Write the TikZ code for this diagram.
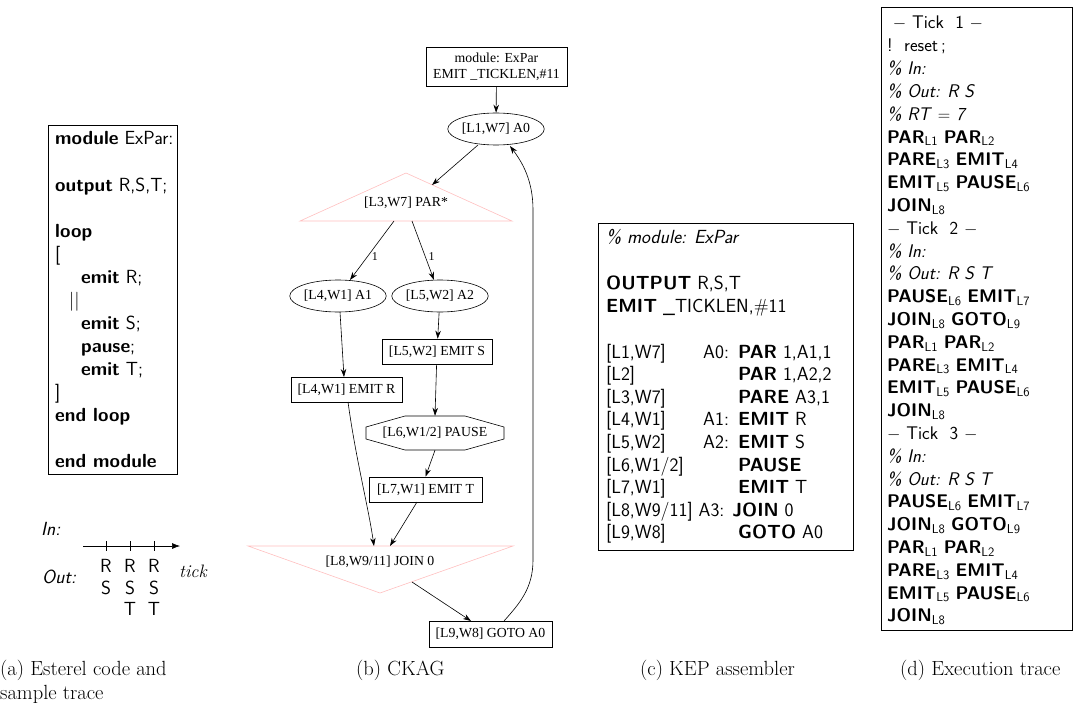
\documentclass[tikz,border=0pt]{standalone}
\usepackage{fontspec}
\newfontfamily\tms{Liberation Serif}
\usetikzlibrary{arrows.meta,shapes.geometric}
\newcommand{\ssb}[1]{\textsubscript{#1}}
\begin{document}
\begin{tikzpicture}[x=1pt,y=-1pt,
  code/.style={font=\sffamily\fontsize{19}{21}\selectfont, anchor=base west, inner sep=0},
  tcode/.style={font=\sffamily\fontsize{18.3}{21}\selectfont, anchor=base west, inner sep=0},
  gbox/.style={font=\tms\fontsize{13.8}{16}\selectfont, draw, line width=0.6pt, inner sep=0, align=center},
  gtext/.style={font=\tms\fontsize{13.8}{16}\selectfont, inner sep=0},
  gsmall/.style={font=\tms\fontsize{12}{14}\selectfont, inner sep=0},
  gell/.style={gbox, ellipse, minimum width=90pt, minimum height=32pt},
  garrow/.style={-{Stealth[length=8pt,width=5.5pt]}, line width=0.6pt},
  pinkline/.style={draw=pink, line width=0.6pt},
  panel/.style={draw, line width=0.8pt},
  captxt/.style={font=\fontsize{20.5}{24}\selectfont, anchor=base west, inner sep=0}
]
\useasboundingbox (0,0) rectangle (1081,706);

% ---------------- (a) Esterel code ----------------
\draw[panel] (48,125) rectangle (177,474);
\foreach \t/\dx [count=\i] in {{\textbf{module} ExPar:}/0, {}/0, {\textbf{output} R,S,T;}/0, {}/0,
  {\textbf{loop}}/0, {[}/0, {\textbf{emit} R;}/26, {||}/14, {\textbf{emit} S;}/26, {\textbf{pause};}/26,
  {\textbf{emit} T;}/26, {]}/0, {\textbf{end loop}}/0, {}/0, {\textbf{end module}}/0}
  \node[code] (ca\i) at ({55+\dx},{145+23*(\i-1)}) {\t};

% sample trace
\node[code] (inlbl) at (41,535) {\textit{In:}};
\node[code] (outlbl) at (42,583) {\textit{Out:}};
\coordinate (axs) at (83,546);
\coordinate (axe) at (180,546);
\draw[-{Latex[length=8pt,width=6pt]}, line width=0.6pt] (axs) -- (axe);
\foreach \x in {106,130,154} \draw[line width=0.6pt] (\x,541) -- (\x,551);
\foreach \x [count=\i] in {106,130,154} {
  \node[code, anchor=base] (r\i) at (\x,572) {R};
  \node[code, anchor=base] (s\i) at (\x,594) {S};
}
\node[code, anchor=base] (t2) at (130,615) {T};
\node[code, anchor=base] (t3) at (154,615) {T};
\node[captxt, font=\fontsize{18}{20}\selectfont] (ticklbl) at (179,577) {\textit{tick}};

% ---------------- (b) CKAG ----------------
\node[gbox, minimum width=141pt, minimum height=39pt] (top) at (496.5,66.5) {module: ExPar\\EMIT \_TICKLEN,\#11};
\node[gell] (a0) at (496,129) {[L1,W7] A0};
% PAR triangle
\draw[pinkline] (406,173) -- (512,221) -- (300,221) -- cycle;
\node[gtext] (par) at (406,203) {[L3,W7] PAR*};
\coordinate (a0out) at (478,145);
\coordinate (parin) at (432,185);
\coordinate (parl) at (394,221);
\coordinate (parr) at (412,221);
\node[gell] (a1) at (338,296) {[L4,W1] A1};
\node[gell] (a2) at (440,296) {[L5,W2] A2};
\coordinate (a1top) at (350,280);
\coordinate (a2top) at (434,280);
\node[gbox, minimum width=110pt, minimum height=25pt] (ems) at (437,351.5) {[L5,W2] EMIT S};
\node[gbox, minimum width=111pt, minimum height=25pt] (emr) at (346.5,389.5) {[L4,W1] EMIT R};
\node[gtext, minimum width=138pt, minimum height=34pt] (pause) at (435,433) {[L6,W1/2] PAUSE};
\draw[line width=0.6pt, shift={(pause.center)}] (-30,-17) -- (30,-17) -- (69,-6) -- (69,6) -- (30,17) -- (-30,17) -- (-69,6) -- (-69,-6) -- cycle;
\node[gbox, minimum width=113pt, minimum height=25pt] (emt) at (425.5,489.5) {[L7,W1] EMIT T};
% JOIN triangle
\draw[pinkline] (248,546) -- (513,546) -- (380,593) -- cycle;
\node[gtext] (join) at (380,562) {[L8,W9/11] JOIN 0};
\coordinate (a1bot) at (340,312);
\coordinate (emrtop) at (344,377);
\coordinate (emrbot) at (348,402);
\coordinate (emtbot) at (417,502);
\coordinate (joinl) at (374,546);
\coordinate (joinr) at (390,546);
\coordinate (joinout) at (412,582);
\node[gbox, minimum width=123pt, minimum height=26pt] (goto) at (490.5,634) {[L9,W8] GOTO A0};
\coordinate (gotoin) at (471,621);
\coordinate (gotor) at (504,621);
\coordinate (a0in) at (510,146);

\draw[garrow] (top) -- (a0);
\draw[garrow] (a0out) -- (parin);
\draw[garrow] (parl) -- node[gsmall, pos=0.6, right=4pt] (l1) {1} (a1top);
\draw[garrow] (parr) -- node[gsmall, pos=0.6, right=3pt] (l2) {1} (a2top);
\draw[garrow] (a1bot) -- (emrtop);
\draw[garrow] (a2) -- (ems);
\draw[garrow] (ems) -- (pause.north);
\draw[garrow] (pause.south) -- (emt.north);
\draw[garrow] (emrbot) .. controls (356,460) and (368,505) .. (joinl);
\draw[garrow] (emtbot) -- (joinr);
\draw[garrow] (joinout) -- (gotoin);
\draw[garrow] (gotor) .. controls (520,603) and (533,588) .. (533,560) -- (533,210) .. controls (533,180) and (522,162) .. (a0in);

% ---------------- (c) KEP assembler ----------------
\draw[panel] (598,223) rectangle (853,550);
\node[code] (c1) at (606,243) {\textit{\% module: ExPar}};
\node[code] (c2) at (606,289) {\textbf{OUTPUT} R,S,T};
\node[code] (c3) at (606,312) {\textbf{EMIT} \_TICKLEN,\#11};
\foreach \a/\b/\c [count=\i] in {{[L1,W7]}/{A0:}/{\textbf{PAR} 1,A1,1},
  {[L2]}/{}/{\textbf{PAR} 1,A2,2},
  {[L3,W7]}/{}/{\textbf{PARE} A3,1},
  {[L4,W1]}/{A1:}/{\textbf{EMIT} R},
  {[L5,W2]}/{A2:}/{\textbf{EMIT} S},
  {[L6,W1/2]}/{}/{\textbf{PAUSE}},
  {[L7,W1]}/{}/{\textbf{EMIT} T}} {
  \node[code] (ka\i) at (606,{358+22.6*(\i-1)}) {\a};
  \node[code] (kb\i) at (703,{358+22.6*(\i-1)}) {\b};
  \node[code] (kc\i) at (738,{358+22.6*(\i-1)}) {\c};
}
\node[code] (k8) at (606,516) {[L8,W9/11] A3: \textbf{JOIN} 0};
\node[code] (ka9) at (606,538.5) {[L9,W8]};
\node[code] (kc9) at (738,538.5) {\textbf{GOTO} A0};

% ---------------- (d) Execution trace ----------------
\draw[panel] (881,7) rectangle (1072,630);
\foreach \t [count=\i] in {
  {\ $-$ Tick\ \ 1 $-$}, {!\ \ reset\,;}, {\textit{\% In:}}, {\textit{\% Out: R S}}, {\textit{\% RT} $=$ \textit{7}},
  {\textbf{PAR}\ssb{L1} \textbf{PAR}\ssb{L2}}, {\textbf{PARE}\ssb{L3} \textbf{EMIT}\ssb{L4}},
  {\textbf{EMIT}\ssb{L5} \textbf{PAUSE}\ssb{L6}}, {\textbf{JOIN}\ssb{L8}},
  {$-$ Tick\ \ 2 $-$}, {\textit{\% In:}}, {\textit{\% Out: R S T}},
  {\textbf{PAUSE}\ssb{L6} \textbf{EMIT}\ssb{L7}}, {\textbf{JOIN}\ssb{L8} \textbf{GOTO}\ssb{L9}},
  {\textbf{PAR}\ssb{L1} \textbf{PAR}\ssb{L2}}, {\textbf{PARE}\ssb{L3} \textbf{EMIT}\ssb{L4}},
  {\textbf{EMIT}\ssb{L5} \textbf{PAUSE}\ssb{L6}}, {\textbf{JOIN}\ssb{L8}},
  {$-$ Tick\ \ 3 $-$}, {\textit{\% In:}}, {\textit{\% Out: R S T}},
  {\textbf{PAUSE}\ssb{L6} \textbf{EMIT}\ssb{L7}}, {\textbf{JOIN}\ssb{L8} \textbf{GOTO}\ssb{L9}},
  {\textbf{PAR}\ssb{L1} \textbf{PAR}\ssb{L2}}, {\textbf{PARE}\ssb{L3} \textbf{EMIT}\ssb{L4}},
  {\textbf{EMIT}\ssb{L5} \textbf{PAUSE}\ssb{L6}}, {\textbf{JOIN}\ssb{L8}}}
  \node[tcode] (d\i) at (887,{29+22.8*(\i-1)}) {\t};

% ---------------- captions ----------------
\node[captxt] (capa) at (0,675) {(a) Esterel code and};
\node[captxt] (capa2) at (0,699) {sample trace};
\node[captxt] (capb) at (356,675) {(b) CKAG};
\node[captxt] (capc) at (640,675) {(c) KEP assembler};
\node[captxt] (capd) at (900,675) {(d) Execution trace};
\end{tikzpicture}
\end{document}
